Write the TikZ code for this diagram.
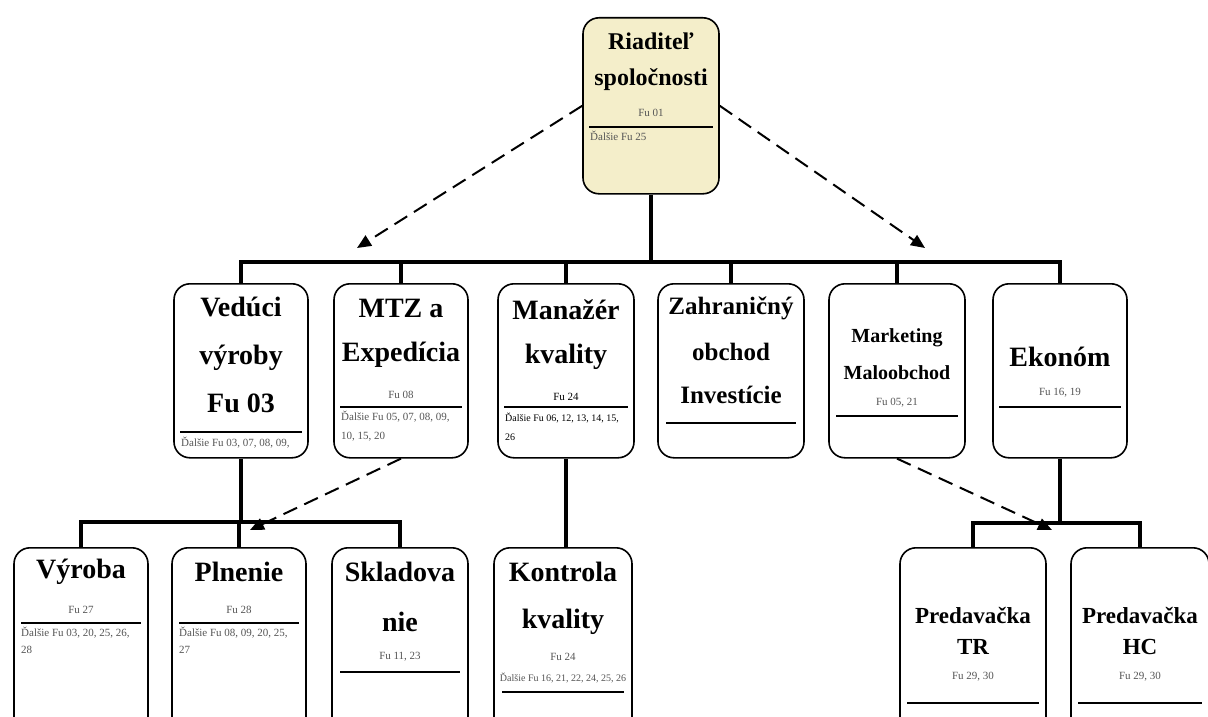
\documentclass[tikz,border=0pt]{standalone}
\usepackage{fontspec}
\setmainfont{Liberation Serif}
\usetikzlibrary{arrows.meta}
\definecolor{cream}{RGB}{244,238,202}
\definecolor{smallgray}{RGB}{85,85,85}

\tikzset{
  unit/.style={draw, rounded corners=16pt, line width=1.6pt, anchor=north,
    minimum width=134pt, minimum height=174pt, fill=white},
  head/.style={font=\bfseries\fontsize{28}{30}\selectfont},
  headmid/.style={font=\bfseries\fontsize{24}{26}\selectfont},
  headsm/.style={font=\bfseries\fontsize{20}{22}\selectfont},
  fu/.style={font=\fontsize{11}{12}\selectfont, text=smallgray},
  more/.style={font=\fontsize{11}{12}\selectfont, text=smallgray, anchor=west, inner sep=0pt},
  sep/.style={line width=1.2pt},
  tree/.style={line width=4pt},
  link/.style={line width=2pt, dash pattern=on 15pt off 8pt,
    -{Triangle[length=14pt,width=12pt]}},
}

\begin{document}
\begin{tikzpicture}[x=1pt, y=-1pt]
\useasboundingbox (0,0) rectangle (1208,717);
\clip (0,0) rectangle (1208,717);

% boss
\node[unit, fill=cream, minimum width=136pt, minimum height=176pt] (top) at (651,17) {};
\node[headmid] (top1) at (651,41) {Riaditeľ};
\node[headmid] (top2) at (651,80) {spoločnosti};
\node[fu] (top3) at (651,113) {Fu 01};
\node[more] (top4) at (590,136) {Ďalšie Fu 25};

% second level
\node[unit] (vv) at (241,283) {};
\node[unit] (mtz) at (401,283) {};
\node[unit, minimum width=136pt] (mk) at (566,283) {};
\node[unit, minimum width=146pt] (zo) at (731,283) {};
\node[unit, minimum width=136pt] (ma) at (897,283) {};
\node[unit] (ek) at (1060,283) {};

\node[head] (vv1) at (241,307) {Vedúci};
\node[head] (vv2) at (241,358) {výroby};
\node[head] (vv3) at (241,403) {Fu 03};
\node[more] (vv4) at (181,443) {Ďalšie Fu 03, 07, 08, 09,};

\node[head] (mtz1) at (401,308) {MTZ a};
\node[head] (mtz2) at (401,355) {Expedícia};
\node[fu] (mtz3) at (401,395) {Fu 08};
\node[more] (mtz4) at (341,417) {Ďalšie Fu 05, 07, 08, 09,};
\node[more] (mtz5) at (341,437) {10, 15, 20};

\node[head] (mk1) at (566,310) {Manažér};
\node[head] (mk2) at (566,357) {kvality};
\node[fu, text=black] (mk3) at (566,397) {Fu 24};
\node[more, text=black, font=\fontsize{10}{11}\selectfont] (mk4) at (505,418) {Ďalšie Fu 06, 12, 13, 14, 15,};
\node[more, text=black, font=\fontsize{10}{11}\selectfont] (mk5) at (505,437) {26};

\node[headmid, font=\bfseries\fontsize{25}{27}\selectfont] (zo1) at (731,308) {Zahraničný};
\node[headmid, font=\bfseries\fontsize{25}{27}\selectfont] (zo2) at (731,352) {obchod};
\node[headmid, font=\bfseries\fontsize{25}{27}\selectfont] (zo3) at (731,395) {Investície};

\node[headsm] (ma1) at (897,338) {Marketing};
\node[headsm] (ma2) at (897,373) {Maloobchod};
\node[fu] (ma3) at (897,403) {Fu 05, 21};

\node[head] (ek1) at (1060,357) {Ekonóm};
\node[fu] (ek2) at (1060,393) {Fu 16, 19};

% third level
\node[unit, minimum height=190pt] (vy) at (81,547) {};
\node[unit, minimum height=190pt] (pl) at (239,547) {};
\node[unit, minimum width=136pt, minimum height=190pt] (sk) at (400,547) {};
\node[unit, minimum width=138pt, minimum height=190pt] (kk) at (563,547) {};
\node[unit, minimum width=146pt, minimum height=190pt] (tr) at (973,547) {};
\node[unit, minimum width=138pt, minimum height=190pt] (hc) at (1140,547) {};

\node[head] (vy1) at (81,572) {Výroba};
\node[fu] (vy2) at (81,610) {Fu 27};
\node[more] (vy3) at (21,633) {Ďalšie Fu 03, 20, 25, 26,};
\node[more] (vy4) at (21,650) {28};

\node[head] (pl1) at (239,572) {Plnenie};
\node[fu] (pl2) at (239,610) {Fu 28};
\node[more] (pl3) at (179,633) {Ďalšie Fu 08, 09, 20, 25,};
\node[more] (pl4) at (179,650) {27};

\node[head] (sk1) at (400,572) {Skladova};
\node[head] (sk2) at (400,622) {nie};
\node[fu] (sk3) at (400,657) {Fu 11, 23};

\node[head] (kk1) at (563,572) {Kontrola};
\node[head] (kk2) at (563,622) {kvality};
\node[fu] (kk3) at (563,657) {Fu 24};
\node[fu, font=\fontsize{10}{11}\selectfont] (kk4) at (563,678) {Ďalšie Fu 16, 21, 22, 24, 25, 26};

\node[headmid, font=\bfseries\fontsize{23}{25}\selectfont] (tr1) at (973,615) {Predavačka};
\node[headmid, font=\bfseries\fontsize{23}{25}\selectfont] (tr2) at (973,647) {TR};
\node[fu] (tr3) at (973,677) {Fu 29, 30};

\node[headmid, font=\bfseries\fontsize{23}{25}\selectfont] (hc1) at (1140,615) {Predavačka};
\node[headmid, font=\bfseries\fontsize{23}{25}\selectfont] (hc2) at (1140,647) {HC};
\node[fu] (hc3) at (1140,677) {Fu 29, 30};

% rules inside the boxes
\foreach \l/\r/\y in {589/713/127, 180/302/432, 340/462/407, 504/628/407,
    666/796/423, 836/958/416, 999/1121/407, 21/141/623, 179/299/623,
    340/460/672, 502/624/692, 907/1039/703, 1078/1202/703}
  \draw[sep] (\l,\y) -- (\r,\y);

% tree
\coordinate (bus) at (651,262);
\coordinate (busL) at (241,522);
\coordinate (busR) at (1060,523);
\draw[tree] (top.south) -- (bus);
\draw[tree] (vv.north) |- (bus) -| (ek.north);
\foreach \n in {mtz,mk,zo,ma}
  \draw[tree] (\n.north) -- (\n.north |- bus);

\draw[tree] (vv.south) -- (busL);
\draw[tree] (vy.north) |- (busL) -| (sk.north);
\draw[tree] (pl.north) -- (pl.north |- busL);

\draw[tree] (mk.south) -- (mk.south |- kk.north);

\draw[tree] (ek.south) -- (busR);
\draw[tree] (tr.north) |- (busR) -| (hc.north);

% dashed links
\coordinate (tipL) at (357,248);
\coordinate (tipR) at (925,248);
\coordinate (tipV) at (250,530);
\coordinate (tipM) at (1052,530);
\draw[link] (top.west) -- (tipL);
\draw[link] (top.east) -- (tipR);
\draw[link] (mtz.south) -- (tipV);
\draw[link] (ma.south) -- (tipM);
\end{tikzpicture}
\end{document}
